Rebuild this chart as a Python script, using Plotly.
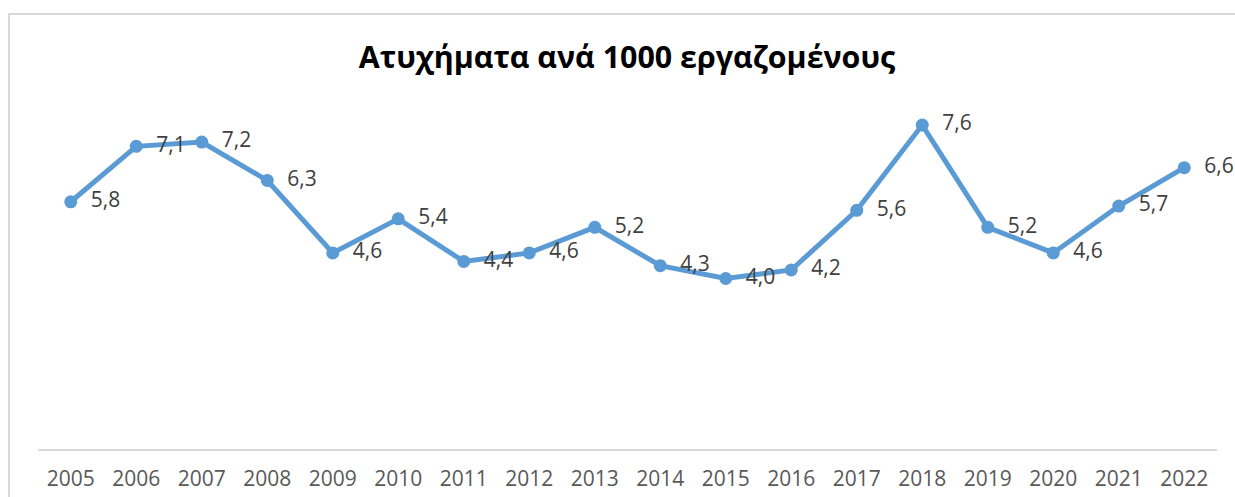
import plotly.graph_objects as go

years = ["2005", "2006", "2007", "2008", "2009", "2010", "2011", "2012", "2013",
         "2014", "2015", "2016", "2017", "2018", "2019", "2020", "2021", "2022"]
values = [5.8, 7.1, 7.2, 6.3, 4.6, 5.4, 4.4, 4.6, 5.2,
          4.3, 4.0, 4.2, 5.6, 7.6, 5.2, 4.6, 5.7, 6.6]
labels = [f"{v:.1f}".replace(".", ",") for v in values]

W, H = 1235, 497
ml, mr, mt, mb = 38, 18, 108, 48
pw, ph = W - ml - mr, H - mt - mb

fig = go.Figure()
fig.add_trace(go.Scatter(
    x=years, y=values, mode="lines+markers+text",
    text=["  " + t for t in labels], textposition="middle right",
    textfont=dict(family="Open Sans", size=21, color="#404040"),
    line=dict(color="#5B9BD5", width=5),
    marker=dict(color="#5B9BD5", size=13),
    cliponaxis=False, hoverinfo="skip",
))

# chart border (extends beyond the visible window on right/bottom)
fig.add_shape(type="rect", xref="paper", yref="paper",
              x0=(9 - ml) / pw, x1=(W + 20 - ml) / pw,
              y0=-(60) / ph, y1=(H - mb - 14) / ph,
              line=dict(color="#D9D9D9", width=2), layer="below")

fig.update_layout(
    width=W, height=H,
    margin=dict(l=ml, r=mr, t=mt, b=mb, autoexpand=False),
    paper_bgcolor="white", plot_bgcolor="white",
    showlegend=False,
    title=dict(text="<b>Ατυχήματα ανά 1000 εργαζομένους</b>",
               x=627 / W, xanchor="center", y=1 - 57 / H, yanchor="middle",
               font=dict(family="Open Sans", size=30.4, color="#000000")),
    xaxis=dict(type="category", range=[-0.5, 17.5], showgrid=False,
               showline=True, linecolor="#D9D9D9", linewidth=2,
               ticks="", tickfont=dict(family="Open Sans", size=21, color="#595959"),
               ticklabelstandoff=10, zeroline=False, automargin=False),
    yaxis=dict(range=[0, 8], visible=False, showgrid=False, zeroline=False,
               automargin=False),
)

fig.write_html("out.html", config={"displayModeBar": False},
               post_script="document.body.style.margin='0';document.body.style.overflow='hidden';")
